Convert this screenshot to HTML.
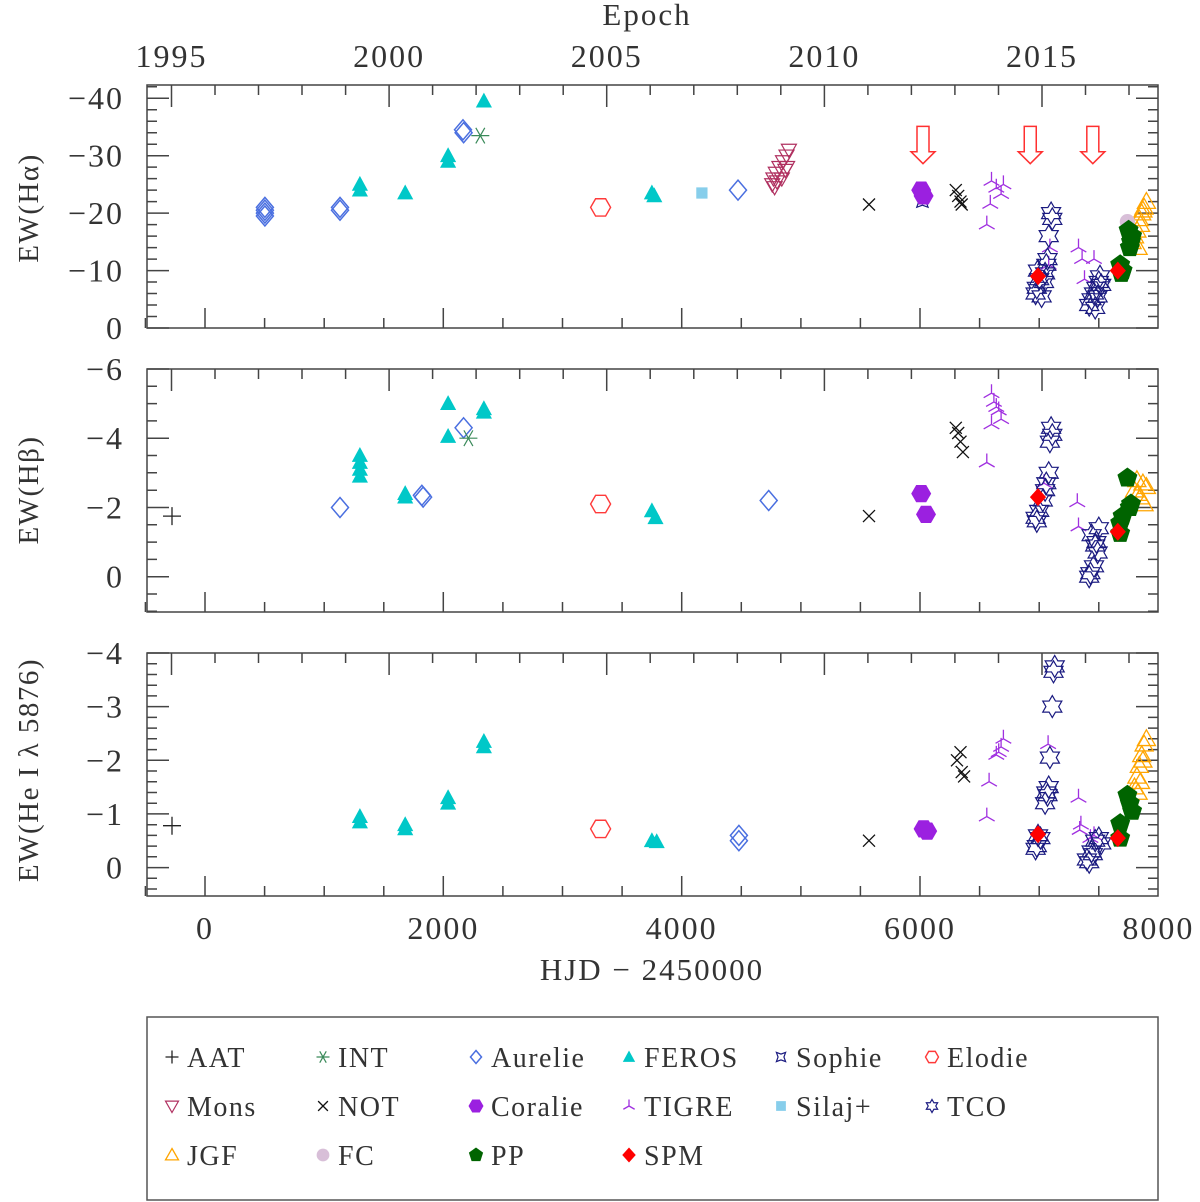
<!DOCTYPE html>
<html><head><meta charset="utf-8">
<style>
html,body{margin:0;padding:0;background:#fff;}
svg{display:block;font-family:"Liberation Serif",serif;}
</style></head>
<body>
<svg id="chart" width="1200" height="1202" viewBox="0 0 1200 1202" xmlns="http://www.w3.org/2000/svg"></svg>
<script>
// ---------- DATA (HJD-2450000, EW) ----------
// Panel H-alpha
const aurelieHa = [[503,-21],[503,-20],[503,-19.5],[503,-20.5],[1133,-21],[1133,-20.5],[2165,-34.5],[2170,-34],[4473,-24]];
const ferosHa = [[1300,-25],[1300,-24],[1680,-23.5],[2040,-30],[2040,-29],[2340,-39.5],[3750,-23.5],[3770,-23]];
const intHa = [[2310,-33.5]];
const elodieHa = [[3320,-21]];
const silajHa = [[4170,-23.5]];
const monsHa = [[4760,-25],[4770,-26],[4780,-24.5],[4790,-27],[4800,-25.5],[4820,-28],[4840,-26],[4850,-29],[4870,-27.5],[4880,-30],[4900,-31],[4885,-28]];
const notHa = [[5572,-21.5],[6300,-24],[6320,-23],[6340,-22],[6350,-21.5]];
const coralieHa = [[6010,-24],[6030,-23]];
const tigreHa = [[6600,-25.6],[6640,-24.4],[6680,-23.3],[6590,-21.6],[6560,-18],[6700,-25],[7090,-14],[7080,-11],[7330,-14],[7360,-12],[7460,-12],[7380,-8.5]];
const tcoHa = [[7100,-20],[7110,-19],[7080,-16],[7070,-12],[7060,-11],[7050,-9.5],[7040,-8],[6980,-7],[6970,-6],[7020,-5.5],[6990,-10],[7000,-8.5],[7420,-4],[7440,-5],[7460,-6],[7480,-7],[7500,-8],[7510,-9],[7470,-3.5],[7490,-5.5],[7520,-7.5]];
const sophieHa = [[6020,-22]];
const spmHa = [[6990,-9],[7660,-10]];
const fcHa = [[7740,-18.5]];
const jgfHa = [[7780,-15],[7800,-16],[7820,-17],[7840,-19],[7860,-20],[7880,-21],[7900,-22],[7850,-18],[7830,-14],[7870,-20.5]];
const ppHa = [[7680,-11],[7700,-10],[7690,-9.5],[7750,-17],[7780,-16],[7770,-15],[7760,-14]];
const arrowsHa = [6025,6925,7450];

// Panel H-beta
const aatHb = [[-277,-1.75]];
const aurelieHb = [[1133,-2.0],[1820,-2.35],[1830,-2.3],[2170,-4.3],[4730,-2.2]];
const ferosHb = [[1300,-3.5],[1300,-3.3],[1300,-3.1],[1300,-2.9],[1680,-2.4],[1680,-2.3],[2040,-5.0],[2040,-4.05],[2340,-4.85],[2340,-4.75],[3750,-1.9],[3780,-1.7]];
const intHb = [[2210,-4.0]];
const elodieHb = [[3320,-2.1]];
const notHb = [[5572,-1.75],[6300,-4.3],[6320,-4.15],[6340,-3.9],[6360,-3.6]];
const coralieHb = [[6010,-2.4],[6050,-1.8]];
const tigreHb = [[6560,-3.3],[6600,-5.3],[6620,-5.05],[6640,-4.9],[6680,-4.55],[6660,-4.8],[6600,-4.4],[7040,-2.7],[7320,-2.15],[7330,-1.45]];
const tcoHb = [[7100,-4.3],[7110,-4.1],[7090,-3.9],[7080,-3.0],[7060,-2.7],[7050,-2.5],[7030,-2.2],[7000,-1.9],[6980,-1.6],[6970,-1.7],[7440,-1.2],[7470,-0.9],[7490,-0.7],[7500,-1.4],[7460,-0.3],[7420,0.0],[7430,-0.1],[7480,-1.0]];
const spmHb = [[6990,-2.3],[7660,-1.3]];
const ppHb = [[7680,-1.55],[7680,-1.25],[7700,-1.75],[7740,-2.85],[7770,-2.1],[7760,-2.0]];
const jgfHb = [[7800,-2.5],[7820,-2.8],[7850,-2.3],[7870,-2.7],[7880,-2.1],[7830,-2.4],[7900,-2.6]];

// Panel He I 5876
const aatHe = [[-277,-0.78]];
const ferosHe = [[1300,-0.95],[1300,-0.85],[1680,-0.8],[1680,-0.72],[2040,-1.3],[2040,-1.2],[2340,-2.35],[2340,-2.25],[3750,-0.5],[3790,-0.48]];
const elodieHe = [[3320,-0.72]];
const aurelieHe = [[4480,-0.6],[4480,-0.5]];
const notHe = [[5572,-0.5],[6310,-2.0],[6340,-2.15],[6350,-1.78],[6370,-1.7]];
const coralieHe = [[6030,-0.72],[6060,-0.68]];
const tigreHe = [[6640,-2.1],[6660,-2.15],[6680,-2.25],[6700,-2.4],[6580,-1.6],[6560,-0.95],[7075,-2.3],[7330,-1.3],[7340,-0.7],[7350,-0.8],[7430,-0.55],[7460,-0.6]];
const tcoHe = [[7130,-3.75],[7120,-3.65],[7110,-3.0],[7090,-2.05],[7080,-1.5],[7070,-1.35],[7060,-1.4],[7050,-1.2],[6990,-0.6],[6980,-0.4],[6970,-0.35],[7010,-0.55],[7400,-0.15],[7420,-0.1],[7440,-0.3],[7470,-0.5],[7500,-0.55],[7520,-0.45],[7450,-0.25]];
const spmHe = [[6990,-0.62],[7660,-0.55]];
const ppHe = [[7680,-0.55],[7680,-0.82],[7740,-1.35],[7760,-1.2],[7780,-1.05]];
const jgfHe = [[7800,-1.5],[7820,-1.7],[7840,-1.9],[7860,-2.1],[7880,-2.3],[7900,-2.4],[7850,-1.6],[7830,-1.4],[7870,-2.0]];

const xTickLabels = [0,2000,4000,6000,8000];
const yearLabels = [1995,2000,2005,2010,2015];
const haTicks = [-40,-30,-20,-10,0];
const hbTicks = [-6,-4,-2,0];
const heTicks = [-4,-3,-2,-1,0];
const legendNames = ["AAT","INT","Aurelie","FEROS","Sophie","Elodie","Mons","NOT","Coralie","TIGRE","Silaj+","TCO","JGF","FC","PP","SPM"];

// ---------- helpers ----------
const NS="http://www.w3.org/2000/svg";
const svg=document.getElementById('chart');
function mk(tag,attrs,parent){const e=document.createElementNS(NS,tag);for(const k in attrs)e.setAttribute(k,attrs[k]);(parent||svg).appendChild(e);return e;}
const X0=147,X1=1158;
function xs(h){return 205+h*0.11917;}
function yearToHjd(y){return (y-1995)*365.25-281.5;}

const panels=[
 {name:'halpha',top:85,bot:328,vmin:-42.3,vmax:0,minor:2,major:10,ticks:haTicks,title:'EW(Hα)',tcy:208},
 {name:'hbeta',top:369,bot:612,vmin:-6,vmax:1.02,minor:0.5,major:2,ticks:hbTicks,title:'EW(Hβ)',tcy:490},
 {name:'hei',top:653,bot:896,vmin:-4,vmax:0.53,minor:0.2,major:1,ticks:heTicks,title:'EW(He I λ 5876)',tcy:770}
];
panels.forEach(p=>{p.ys=v=>p.top+(v-p.vmin)/(p.vmax-p.vmin)*(p.bot-p.top);});

const COL={aat:'#222',int:'#3a8a5a',aurelie:'#4a6fe0',feros:'#00c8c8',sophie:'#1a1a80',elodie:'#ff3a3a',mons:'#b03060',not:'#111',coralie:'#9b20e0',tigre:'#a030e0',silaj:'#87ceeb',tco:'#1a1a80',jgf:'#ffa500',fc:'#d8bfd8',pp:'#006400',spm:'#ff0000'};

function poly(n,r,rot){let pts=[];for(let i=0;i<n;i++){const a=rot+i*2*Math.PI/n;pts.push((r*Math.cos(a)).toFixed(2)+','+(r*Math.sin(a)).toFixed(2));}return pts.join(' ');}
function marker(type,x,y,s,g){
 const c=COL[type];const G=mk('g',{transform:`translate(${x.toFixed(1)},${y.toFixed(1)})`},g);
 const r=s/2;
 switch(type){
  case 'aat':mk('path',{d:`M${-r} 0H${r}M0 ${-r}V${r}`,stroke:c,'stroke-width':1.3,fill:'none'},G);break;
  case 'int':mk('path',{d:`M${-r} 0H${r}M${-r*0.5} ${-r*0.87}L${r*0.5} ${r*0.87}M${r*0.5} ${-r*0.87}L${-r*0.5} ${r*0.87}`,stroke:c,'stroke-width':1.2,fill:'none'},G);break;
  case 'aurelie':mk('polygon',{points:`0,${-r} ${r*0.85},0 0,${r} ${-r*0.85},0`,stroke:c,'stroke-width':1.5,fill:'none'},G);break;
  case 'feros':mk('polygon',{points:`0,${-r} ${r*0.95},${r*0.75} ${-r*0.95},${r*0.75}`,fill:c},G);break;
  case 'elodie':mk('polygon',{points:poly(6,r,0),stroke:c,'stroke-width':1.4,fill:'none'},G);break;
  case 'mons':mk('polygon',{points:`0,${r} ${r},${-r*0.75} ${-r},${-r*0.75}`,stroke:c,'stroke-width':1.2,fill:'none'},G);break;
  case 'not':mk('path',{d:`M${-r*0.75} ${-r*0.75}L${r*0.75} ${r*0.75}M${r*0.75} ${-r*0.75}L${-r*0.75} ${r*0.75}`,stroke:c,'stroke-width':1.3},G);break;
  case 'coralie':mk('polygon',{points:poly(6,r,0),fill:c},G);break;
  case 'tigre':mk('path',{d:`M0 0V${-r}M0 0L${r*0.87} ${r*0.5}M0 0L${-r*0.87} ${r*0.5}`,stroke:c,'stroke-width':1.3},G);break;
  case 'silaj':mk('rect',{x:-r*0.75,y:-r*0.75,width:r*1.5,height:r*1.5,fill:c},G);break;
  case 'tco':{let pts=[];for(let i=0;i<12;i++){const a=-Math.PI/2+i*Math.PI/6;const rr=i%2?r*0.58:r;pts.push((rr*Math.cos(a)).toFixed(2)+','+(rr*Math.sin(a)).toFixed(2));}mk('polygon',{points:pts.join(' '),stroke:c,'stroke-width':1.2,fill:'none'},G);break;}
  case 'sophie':{let pts=[];for(let i=0;i<8;i++){const a=-Math.PI/4+i*Math.PI/4;const rr=i%2?r*0.45:r;pts.push((rr*Math.cos(a)).toFixed(2)+','+(rr*Math.sin(a)).toFixed(2));}mk('polygon',{points:pts.join(' '),stroke:c,'stroke-width':1.2,fill:'none'},G);break;}
  case 'jgf':mk('polygon',{points:`0,${-r} ${r},${r*0.75} ${-r},${r*0.75}`,stroke:c,'stroke-width':1.3,fill:'none'},G);break;
  case 'fc':mk('circle',{r:r*0.85,fill:c},G);break;
  case 'pp':mk('polygon',{points:poly(5,r,-Math.PI/2),fill:c},G);break;
  case 'spm':mk('polygon',{points:`0,${-r} ${r*0.9},0 0,${r} ${-r*0.9},0`,fill:c},G);break;
 }
 return G;
}
const SIZE={aat:18,int:18,aurelie:20,feros:17,sophie:16,elodie:20,mons:15,not:16,coralie:20,tigre:18,silaj:15,tco:22,jgf:18,fc:18,pp:21,spm:18};

// ---------- panels ----------
const seriesByPanel=[
 [['aurelie',aurelieHa],['feros',ferosHa],['int',intHa],['elodie',elodieHa],['silaj',silajHa],['mons',monsHa],['not',notHa],['sophie',sophieHa],['coralie',coralieHa],['tigre',tigreHa],['jgf',jgfHa],['fc',fcHa],['tco',tcoHa],['pp',ppHa],['spm',spmHa]],
 [['aat',aatHb],['aurelie',aurelieHb],['feros',ferosHb],['int',intHb],['elodie',elodieHb],['not',notHb],['coralie',coralieHb],['tigre',tigreHb],['jgf',jgfHb],['tco',tcoHb],['pp',ppHb],['spm',spmHb]],
 [['aat',aatHe],['feros',ferosHe],['elodie',elodieHe],['aurelie',aurelieHe],['not',notHe],['coralie',coralieHe],['tigre',tigreHe],['jgf',jgfHe],['tco',tcoHe],['pp',ppHe],['spm',spmHe]]
];

panels.forEach((p,pi)=>{
 const g=mk('g',{});
 
 
 const frame=mk('rect',{x:X0,y:p.top,width:X1-X0,height:p.bot-p.top,fill:'none',stroke:'#444','stroke-width':1.5},g);
 
 
 let d='';
 for(let h=0;h<=8000;h+=500){const x=xs(h);if(x<X0||x>X1)continue;const L=(h%2000===0)?20:10;d+=`M${x.toFixed(1)} ${p.bot}v${-L}`;}
 d+=`M${xs(-500).toFixed(1)} ${p.bot}v-10`;
 for(let y=1995;y<=2017;y++){const x=xs(yearToHjd(y));if(x<X0||x>X1)continue;const L=(y%5===0)?22:10;d+=`M${x.toFixed(1)} ${p.top}v${L}`;}
 const start=Math.ceil(p.vmin/p.minor)*p.minor;
 for(let v=start;v<=p.vmax+1e-9;v+=p.minor){const vv=Math.round(v/p.minor)*p.minor;const y=p.ys(vv);const maj=Math.abs(vv/p.major-Math.round(vv/p.major))<1e-6;const L=maj?22:10;d+=`M${X0} ${y.toFixed(1)}h${L}M${X1} ${y.toFixed(1)}h${-L}`;}
 const tk=mk('path',{d:d,stroke:'#444','stroke-width':1.5,fill:'none'},g);
 
 
 p.ticks.forEach(v=>{
  const t=mk('text',{x:124,y:p.ys(v)+11,'text-anchor':'end','font-size':32,fill:'#333','letter-spacing':2},g);
  t.textContent=(v<0?'−':'')+Math.abs(v);
  
  
 });
 const tt=mk('text',{x:0,y:0,transform:`translate(38,${p.tcy}) rotate(-90)`,'text-anchor':'middle','font-size':29,fill:'#333','letter-spacing':1.5},g);
 tt.textContent=p.title;
 
 
 seriesByPanel[pi].forEach(([type,arr])=>{
  const sg=mk('g',{},g);
  
  
  arr.forEach(([h,v])=>{
   const m=marker(type,xs(h),p.ys(v),SIZE[type],sg);
   
   
  });
 });
});

arrowsHa.forEach(h=>{
 const p=panels[0];const x=xs(h);const y0=p.ys(-35.1),y1=p.ys(-28.6);
 const a=mk('polygon',{points:`${x-6},${y0} ${x+6},${y0} ${x+6},${y1-12} ${x+12},${y1-12} ${x},${y1} ${x-12},${y1-12} ${x-6},${y1-12}`,fill:'none',stroke:'#ff3030','stroke-width':1.5});
 
 
});

xTickLabels.forEach(h=>{
 const t=mk('text',{x:xs(h),y:939,'text-anchor':'middle','font-size':32,fill:'#333','letter-spacing':2});
 t.textContent=h;
 
 
});
yearLabels.forEach(y=>{
 const t=mk('text',{x:xs(yearToHjd(y)),y:67,'text-anchor':'middle','font-size':32,fill:'#333','letter-spacing':2});
 t.textContent=y;
 
 
});
let t=mk('text',{x:647,y:25,'text-anchor':'middle','font-size':31,fill:'#333','letter-spacing':2});
t.textContent='Epoch';


t=mk('text',{x:652,y:980,'text-anchor':'middle','font-size':31,fill:'#333','letter-spacing':2});
t.textContent='HJD − 2450000';



const lg=mk('g',{});


mk('rect',{x:147,y:1017,width:1011,height:183,fill:'none',stroke:'#555','stroke-width':1.5},lg);
const legTypes=['aat','int','aurelie','feros','sophie','elodie','mons','not','coralie','tigre','silaj','tco','jgf','fc','pp','spm'];
const colX=[172,323,476,629,781,932];
const rowY=[1057,1106,1155];
legTypes.forEach((ty,i)=>{
 const cx=colX[i%6],cy=rowY[Math.floor(i/6)];
 const e=mk('g',{},lg);
 
 
 marker(ty,cx,cy,ty==='pp'||ty==='coralie'||ty==='spm'||ty==='fc'?15:13,e);
 const tx=mk('text',{x:cx+15,y:cy+10,'font-size':28,fill:'#333','letter-spacing':1.5},e);
 tx.textContent=legendNames[i];
});
</script>
</body></html>
